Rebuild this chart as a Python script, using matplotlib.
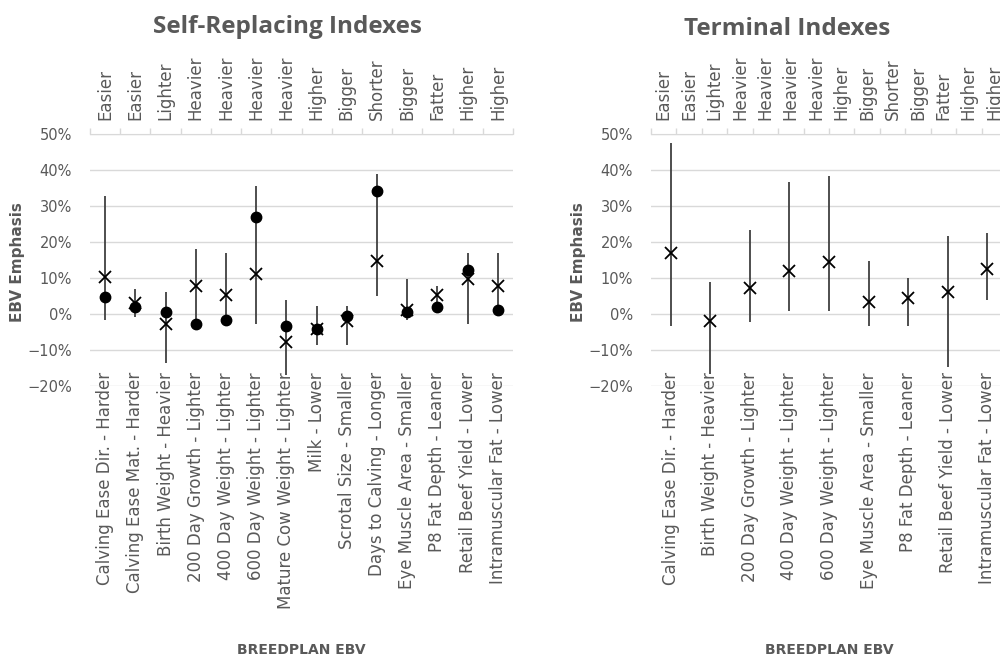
import numpy as np
import matplotlib.pyplot as plt
from matplotlib.ticker import FixedLocator, PercentFormatter

plt.rcParams['font.family'] = ['DejaVu Sans']

GREY = '#595959'
GRID = '#d9d9d9'

# labels on the top axis (direction of the response), same for both panels
top_labels = ['Easier', 'Easier', 'Lighter', 'Heavier', 'Heavier', 'Heavier', 'Heavier',
              'Higher', 'Bigger', 'Shorter', 'Bigger', 'Fatter', 'Higher', 'Higher']

# Self-Replacing Indexes
sr_traits = ['Calving Ease Dir. - Harder', 'Calving Ease Mat. - Harder', 'Birth Weight - Heavier',
             '200 Day Growth - Lighter', '400 Day Weight - Lighter', '600 Day Weight - Lighter',
             'Mature Cow Weight - Lighter', 'Milk - Lower', 'Scrotal Size - Smaller',
             'Days to Calving - Longer', 'Eye Muscle Area - Smaller', 'P8 Fat Depth - Leaner',
             'Retail Beef Yield - Lower', 'Intramuscular Fat - Lower']
sr_mean = [10.2, 3.0, -2.7, 7.9, 5.2, 11.0, -7.8, -4.1, -2.0, 14.8, 1.0, 5.2, 9.7, 7.8]
sr_point = [4.7, 1.9, 0.6, -2.9, -1.6, 26.9, -3.4, -4.3, -0.6, 34.2, 0.6, 1.9, 12.1, 1.1]
sr_high = [32.8, 7.0, 6.2, 18.0, 17.0, 35.5, 3.9, 2.1, 2.1, 38.8, 9.8, 7.9, 17.0, 17.0]
sr_low = [-1.8, -0.9, -13.5, -3.0, -1.6, -2.8, -16.9, -8.7, -8.7, 4.9, -1.8, 0.3, -2.7, 1.0]

# Terminal Indexes
t_traits = ['Calving Ease Dir. - Harder', 'Birth Weight - Heavier', '200 Day Growth - Lighter',
            '400 Day Weight - Lighter', '600 Day Weight - Lighter', 'Eye Muscle Area - Smaller',
            'P8 Fat Depth - Leaner', 'Retail Beef Yield - Lower', 'Intramuscular Fat - Lower']
t_mean = [16.9, -2.0, 7.1, 12.0, 14.4, 3.4, 4.4, 6.2, 12.5]
t_high = [47.5, 9.0, 23.4, 36.6, 38.4, 14.8, 9.9, 21.7, 22.5]
t_low = [-3.2, -16.7, -2.3, 0.9, 0.9, -3.2, -3.2, -14.7, 4.0]

yticks = [-20, -10, 0, 10, 20, 30, 40, 50]


def panel(rect, traits, mean, low, high, point=None):
    ax = fig.add_axes(rect)
    x = np.arange(len(traits))
    ax.set_xlim(-0.5, len(traits) - 0.5)
    ax.set_ylim(-20, 50)
    ax.set_yticks(yticks)
    ax.yaxis.set_major_formatter(PercentFormatter(decimals=0))
    ax.grid(axis='y', color=GRID, lw=1)
    ax.set_axisbelow(True)
    for s in ax.spines.values():
        s.set_visible(False)
    ax.tick_params(axis='y', length=0, pad=13, labelsize=10.5, labelcolor=GREY)
    ax.set_xticks(x)
    ax.set_xticklabels(traits, rotation=90)
    ax.tick_params(axis='x', length=0, pad=-10, labelsize=12, labelcolor=GREY)

    ax.vlines(x, low, high, color='#404040', lw=1.3, zorder=2)
    ax.plot(x, mean, 'x', color='black', ms=9, mew=1.3, zorder=3)
    if point is not None:
        ax.plot(x, point, 'o', color='black', ms=7.5, zorder=4)

    top = ax.twiny()
    top.set_xlim(0, len(top_labels))
    top.xaxis.set_major_locator(FixedLocator(np.arange(len(top_labels) + 1)))
    top.xaxis.set_minor_locator(FixedLocator(np.arange(len(top_labels)) + 0.5))
    top.set_xticklabels([], minor=False)
    top.set_xticklabels(top_labels, minor=True, rotation=90)
    top.tick_params(axis='x', which='major', length=4, color=GRID, width=1)
    top.tick_params(axis='x', which='minor', length=0, pad=10, labelsize=12, labelcolor=GREY)
    for name, s in top.spines.items():
        s.set_visible(name == 'top')
    top.spines['top'].set_color(GRID)
    return ax


fig = plt.figure(figsize=(10, 6.61), dpi=100)
H = 661
bottom = 1 - 386 / H
height = (386 - 134) / H
panel([0.090, bottom, 0.423, height], sr_traits, sr_mean, sr_low, sr_high, sr_point)
panel([0.651, bottom, 0.356, height], t_traits, t_mean, t_low, t_high)

title_kw = dict(ha='center', va='center', fontsize=17.5, fontweight='bold', color=GREY,
                family='Open Sans')
fig.text(0.287, 1 - 27 / H, 'Self-Replacing Indexes', **title_kw)
fig.text(0.787, 1 - 29 / H, 'Terminal Indexes', **title_kw)

lab_kw = dict(ha='center', va='center', fontweight='bold', color=GREY)
for xl, xb in [(0.018, 0.301), (0.579, 0.829)]:
    fig.text(xl, 1 - 262 / H, 'EBV Emphasis', rotation=90, fontsize=11, **lab_kw)
    fig.text(xb, 1 - 650 / H, 'BREEDPLAN EBV', fontsize=10, **lab_kw)

fig.savefig('out.png', dpi=100)
